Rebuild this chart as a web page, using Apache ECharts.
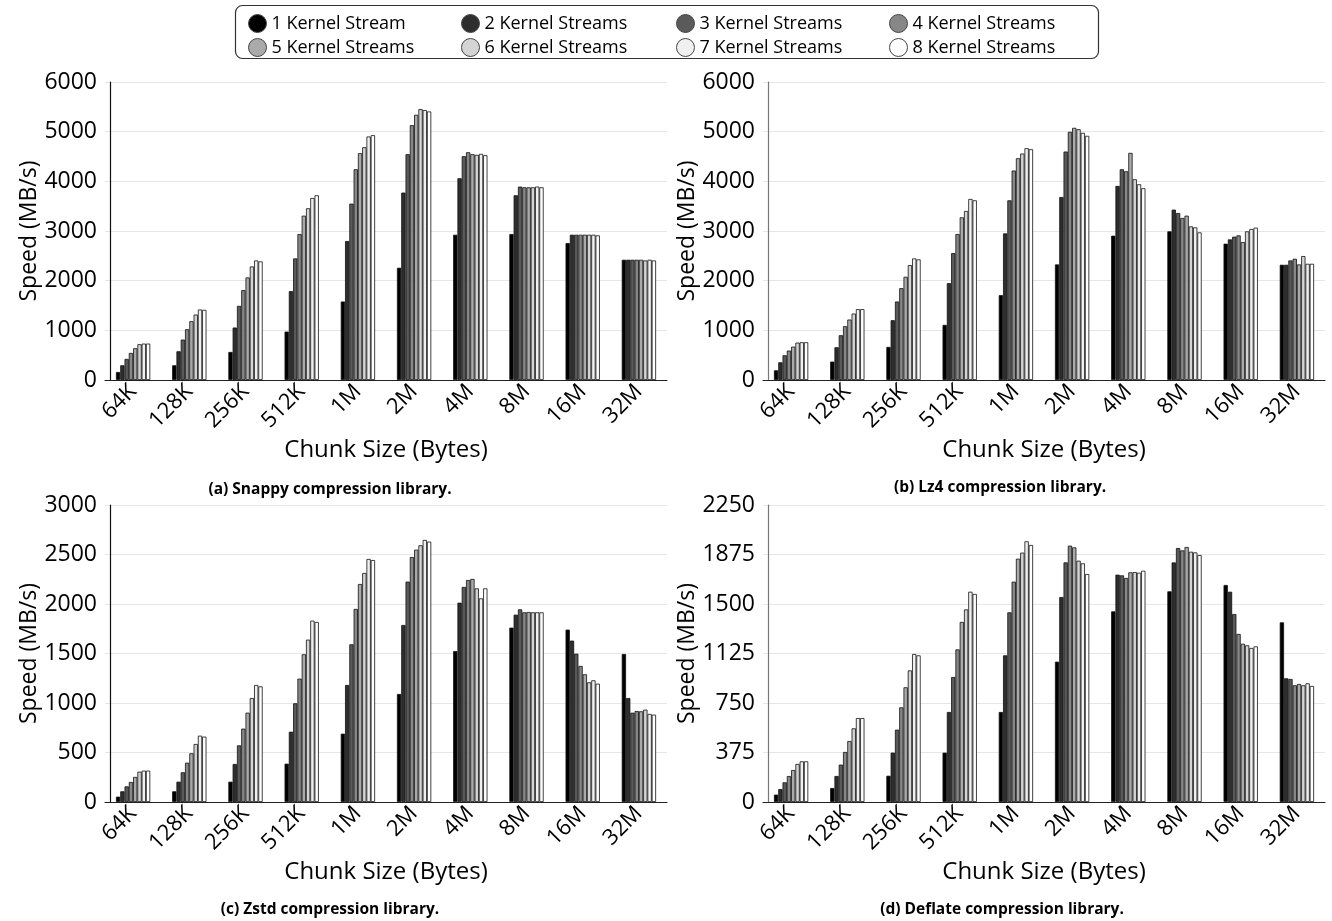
<!DOCTYPE html>
<html>
<head>
<meta charset="utf-8">
<script src="https://cdn.jsdelivr.net/npm/echarts@6/dist/echarts.min.js"></script>
<style>
html,body{margin:0;padding:0;background:#fff;}
#chart{width:1332px;height:921px;}
</style>
</head>
<body>
<div id="chart"></div>
<script>
// Categories (chunk sizes)
var chunkSizes = ['64K','128K','256K','512K','1M','2M','4M','8M','16M','32M'];
// Series names
var streamNames = ['1 Kernel Stream','2 Kernel Streams','3 Kernel Streams','4 Kernel Streams',
                   '5 Kernel Streams','6 Kernel Streams','7 Kernel Streams','8 Kernel Streams'];
var streamColors = ['#000000','#2e2e2e','#5a5a5a','#878787','#aaaaaa','#d4d4d4','#f0f0f0','#ffffff'];

// Each row = one chunk size, values for 1..8 kernel streams (MB/s)
var snappySpeed = [
  [161, 296, 424, 545, 639, 720, 733, 733],
  [296, 578, 814, 1022, 1184, 1318, 1419, 1412],
  [565, 1056, 1493, 1809, 2065, 2286, 2407, 2387],
  [975, 1789, 2448, 2939, 3309, 3457, 3665, 3719],
  [1580, 2798, 3551, 4243, 4566, 4687, 4903, 4929],
  [2260, 3773, 4546, 5131, 5340, 5454, 5434, 5407],
  [2925, 4062, 4506, 4586, 4546, 4533, 4553, 4526],
  [2939, 3719, 3894, 3880, 3880, 3880, 3894, 3880],
  [2757, 2925, 2925, 2925, 2925, 2925, 2925, 2912],
  [2421, 2421, 2421, 2421, 2421, 2407, 2421, 2407]
];
var lz4Speed = [
  [195, 356, 498, 592, 672, 753, 760, 760],
  [370, 659, 901, 1083, 1217, 1338, 1426, 1426],
  [666, 1204, 1580, 1849, 2078, 2313, 2448, 2428],
  [1110, 1950, 2555, 2939, 3275, 3403, 3645, 3618],
  [1708, 2952, 3618, 4217, 4465, 4559, 4667, 4647],
  [2327, 3685, 4600, 4997, 5077, 5050, 4976, 4916],
  [2905, 3907, 4243, 4203, 4573, 4042, 3941, 3860],
  [2993, 3430, 3362, 3262, 3309, 3093, 3073, 2972],
  [2744, 2831, 2885, 2912, 2777, 2993, 3040, 3067],
  [2320, 2320, 2407, 2441, 2327, 2495, 2340, 2340]
];
var zstdSpeed = [
  [54, 108, 158, 202, 253, 306, 317, 317],
  [108, 205, 300, 397, 492, 586, 670, 660],
  [205, 384, 572, 741, 902, 1050, 1182, 1168],
  [387, 710, 997, 1246, 1492, 1640, 1832, 1818],
  [690, 1182, 1593, 1950, 2202, 2313, 2455, 2444],
  [1091, 1788, 2226, 2475, 2549, 2593, 2647, 2630],
  [1525, 2013, 2172, 2242, 2253, 2158, 2057, 2158],
  [1761, 1892, 1946, 1916, 1919, 1916, 1916, 1916],
  [1741, 1630, 1498, 1374, 1290, 1209, 1229, 1195],
  [1495, 1050, 902, 919, 916, 933, 889, 882]
];
var deflateSpeed = [
  [56, 98, 149, 197, 242, 288, 308, 308],
  [106, 197, 283, 379, 462, 558, 636, 636],
  [199, 374, 548, 717, 869, 997, 1121, 1111],
  [374, 682, 947, 1156, 1364, 1459, 1593, 1576],
  [682, 1111, 1437, 1669, 1843, 1889, 1975, 1947],
  [1063, 1553, 1815, 1942, 1929, 1828, 1808, 1727],
  [1444, 1722, 1717, 1697, 1740, 1742, 1737, 1752],
  [1596, 1815, 1924, 1906, 1932, 1896, 1891, 1871],
  [1644, 1593, 1424, 1273, 1199, 1187, 1167, 1179],
  [1361, 937, 932, 884, 894, 884, 899, 879]
];

var yMax = [6000, 6000, 3000, 2250];
var yInterval = [1000, 1000, 500, 375];
var captions = ['(a) Snappy compression library.', '(b) Lz4 compression library.',
                '(c) Zstd compression library.', '(d) Deflate compression library.'];

var panels = [snappySpeed, lz4Speed, zstdSpeed, deflateSpeed];
var FONT = 'Open Sans';

var grids = [
  {left: 105, top: 82, width: 562, height: 298},
  {left: 763, top: 82, width: 562, height: 298},
  {left: 105, top: 505, width: 562, height: 297},
  {left: 763, top: 505, width: 562, height: 297}
];
var axisColors = ['#111', '#777', '#111', '#777'];

var xAxes = [], yAxes = [], series = [];
for (var p = 0; p < 4; p++) {
  xAxes.push({
    type: 'category', gridIndex: p, data: chunkSizes,
    axisLine: {lineStyle: {color: '#222', width: 1.2}},
    axisTick: {show: false},
    axisLabel: {rotate: 45, color: '#000', fontSize: 22, fontFamily: FONT, margin: 8, interval: 0},
    name: 'Chunk Size (Bytes)', nameLocation: 'middle', nameGap: 58,
    nameTextStyle: {fontSize: 24, fontFamily: FONT, color: '#000'}
  });
  yAxes.push({
    type: 'value', gridIndex: p, min: 0, max: yMax[p], interval: yInterval[p],
    offset: -5,
    axisLine: {show: true, lineStyle: {color: axisColors[p], width: 1.2}},
    axisTick: {show: false},
    splitLine: {lineStyle: {color: '#e6e6e6', width: 1}},
    axisLabel: {color: '#000', fontSize: 23, fontFamily: FONT, margin: 13,
                formatter: function (v) { return String(v); }},
    name: 'Speed (MB/s)', nameLocation: 'middle', nameGap: 64,
    nameTextStyle: {fontSize: 23, fontFamily: FONT, color: '#000'}
  });
  for (var k = 0; k < 8; k++) {
    series.push({
      type: 'bar', name: streamNames[k], xAxisIndex: p, yAxisIndex: p,
      data: panels[p].map(function (row) { return row[k]; }),
      barGap: '0%', barCategoryGap: '39%',
      itemStyle: {color: streamColors[k], borderColor: '#111', borderWidth: 0.8},
      animation: false
    });
  }
}

var legendLefts = [248, 461, 676, 889];
var legends = [];
for (var col = 0; col < 4; col++) {
  legends.push({
    orient: 'vertical', left: legendLefts[col], top: 14,
    icon: 'circle', itemWidth: 18, itemHeight: 18, itemGap: 5,
    textStyle: {fontSize: 18, fontFamily: FONT, color: '#000'},
    itemStyle: {borderColor: '#444', borderWidth: 1},
    selectedMode: false, padding: 0,
    data: [streamNames[col], streamNames[col + 4]]
  });
}

var captionPos = [[330, 490], [1000, 488], [330, 910], [1002, 910]];
var graphics = [{
  type: 'rect', shape: {x: 235.5, y: 5.5, width: 863, height: 53, r: 7},
  style: {fill: '#fff', stroke: '#333', lineWidth: 1.2}, z: -1
}];
for (var c = 0; c < 4; c++) {
  graphics.push({
    type: 'text', x: captionPos[c][0], y: captionPos[c][1],
    style: {text: captions[c], font: 'bold 15.5px "Open Sans"', fill: '#000',
            textAlign: 'center', textVerticalAlign: 'middle'}
  });
}

var chart = echarts.init(document.getElementById('chart'), null, {renderer: 'canvas'});
chart.setOption({
  backgroundColor: '#fff',
  animation: false,
  grid: grids,
  xAxis: xAxes,
  yAxis: yAxes,
  legend: legends,
  graphic: graphics,
  series: series
});
</script>
</body>
</html>
